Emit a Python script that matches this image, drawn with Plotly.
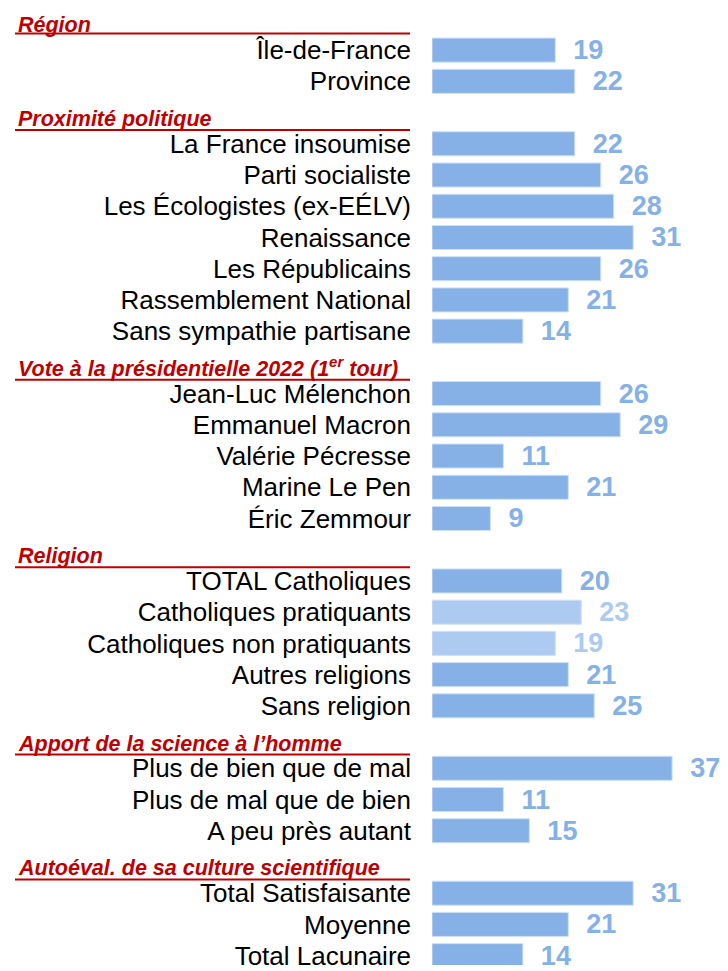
import plotly.graph_objects as go

# --- data -------------------------------------------------------------
section_titles = [
    "Région",
    "Proximité politique",
    "Vote à la présidentielle 2022 (1<sup>er</sup> tour)",
    "Religion",
    "Apport de la science à l’homme",
    "Autoéval. de sa culture scientifique",
]

region_labels = ["Île-de-France", "Province"]
region_values = [19, 22]

party_labels = ["La France insoumise", "Parti socialiste", "Les Écologistes (ex-EÉLV)",
                "Renaissance", "Les Républicains", "Rassemblement National",
                "Sans sympathie partisane"]
party_values = [22, 26, 28, 31, 26, 21, 14]

vote_labels = ["Jean-Luc Mélenchon", "Emmanuel Macron", "Valérie Pécresse",
               "Marine Le Pen", "Éric Zemmour"]
vote_values = [26, 29, 11, 21, 9]

religion_labels = ["TOTAL Catholiques", "Catholiques pratiquants",
                   "Catholiques non pratiquants", "Autres religions", "Sans religion"]
religion_values = [20, 23, 19, 21, 25]

science_labels = ["Plus de bien que de mal", "Plus de mal que de bien", "A peu près autant"]
science_values = [37, 11, 15]

culture_labels = ["Total Satisfaisante", "Moyenne", "Total Lacunaire"]
culture_values = [31, 21, 14]

sub_rows = {"Catholiques pratiquants", "Catholiques non pratiquants"}

# --- rows: one slot per section title, then one per item --------------
groups = [
    (region_labels, region_values),
    (party_labels, party_values),
    (vote_labels, vote_values),
    (religion_labels, religion_values),
    (science_labels, science_values),
    (culture_labels, culture_values),
]

slot = 0
header_slots, ys, labels, values = [], [], [], []
for labs, vals in groups:
    header_slots.append(slot)
    slot += 1
    for lab, v in zip(labs, vals):
        ys.append(slot)
        labels.append(lab)
        values.append(v)
        slot += 1

BLUE = "#85b1e6"
LIGHT = "#adcbf1"
RED = "#c00000"
FONT = "Arial, Liberation Sans, sans-serif"

colors = [LIGHT if lab in sub_rows else BLUE for lab in labels]

fig = go.Figure(go.Bar(
    x=values, y=ys, orientation="h", width=0.77,
    marker=dict(color=colors, line=dict(color="#cfe0f6", width=1)),
    text=values, texttemplate="\u00a0\u00a0%{x}", textposition="outside",
    constraintext="none",
    textfont=dict(family=FONT, size=27, color=colors, weight="bold"),
    cliponaxis=False, hoverinfo="skip",
))

W, H = 728, 971
left = 432
plot_w = W - left
px_per_unit = 6.49
slot_px = 31.42
top_first = 19

x_to_paper = lambda px: (px - left) / plot_w

for t, s in zip(section_titles, header_slots):
    fig.add_annotation(
        x=x_to_paper(16), xref="paper", y=s + 0.56, yref="y",
        xanchor="left", yanchor="bottom", text=t, showarrow=False,
        font=dict(family=FONT, size=21.5, color=RED, weight="bold", style="italic"),
        yshift=-3,
    )
    fig.add_shape(
        type="line", xref="paper", yref="y",
        x0=x_to_paper(15), x1=x_to_paper(410),
        y0=s + (0.47 if s == 0 else 0.56), y1=s + (0.47 if s == 0 else 0.56),
        line=dict(color=RED, width=2),
    )

fig.update_layout(
    width=W, height=H,
    margin=dict(l=left, r=0, t=0, b=0),
    paper_bgcolor="white", plot_bgcolor="white",
    showlegend=False,
    font=dict(family=FONT),
    xaxis=dict(range=[0, plot_w / px_per_unit], visible=False),
    yaxis=dict(
        range=[(slot - 1) + (H - top_first - (slot - 1) * slot_px) / slot_px,
               -top_first / slot_px],
        tickvals=ys, ticktext=labels,
        tickfont=dict(family=FONT, size=26, color="#000000"),
        showgrid=False, zeroline=False, showline=False, ticks="",
        ticklabelstandoff=20, ticklabeloverflow="allow",
    ),
)

fig.write_html("out.html", config={"displayModeBar": False},
               post_script="document.body.style.margin='0';")
